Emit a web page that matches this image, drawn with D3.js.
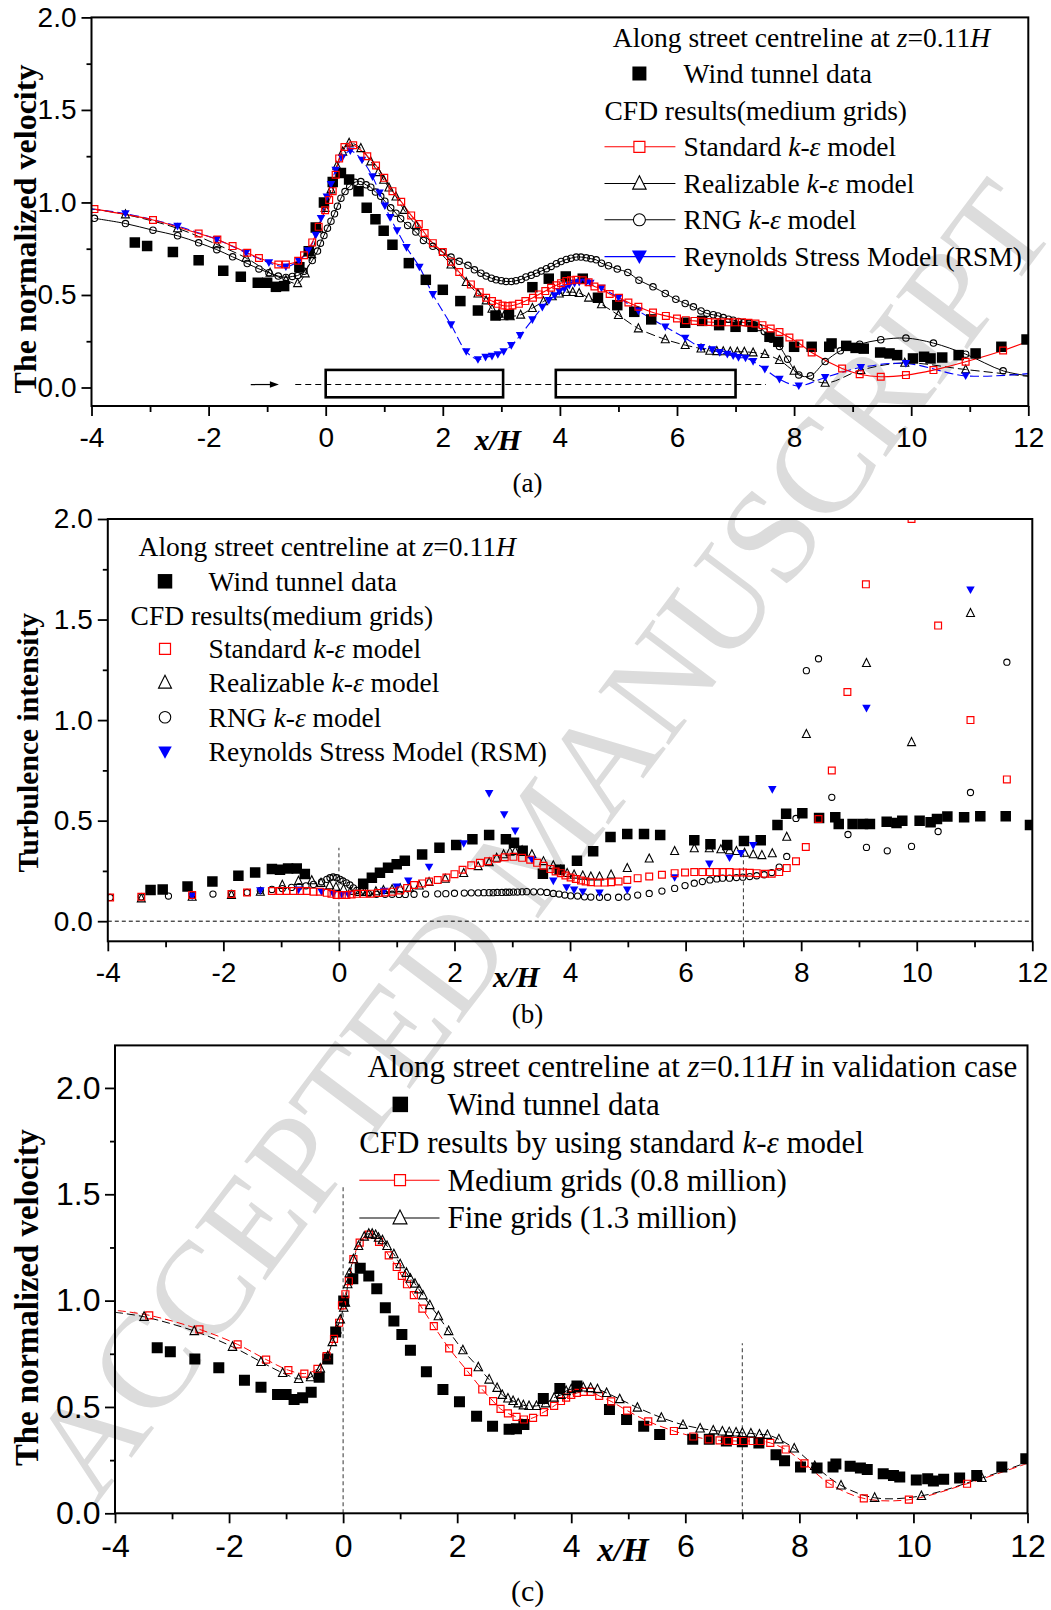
<!DOCTYPE html>
<html>
<head>
<meta charset="utf-8">
<script src="https://cdn.jsdelivr.net/npm/d3@7"></script>
<style>
  html, body { margin: 0; padding: 0; background: #fff; }
  svg { display: block; }
</style>
</head>
<body>
<svg id="fig" width="1051" height="1610"></svg>
<script>
// ---------------------------------------------------------------
// Axis ticks shared by the three panels
// ---------------------------------------------------------------
const xMajorTicks = [-4, -2, 0, 2, 4, 6, 8, 10, 12];
const xMinorTicks = [-3, -1, 1, 3, 5, 7, 9, 11];
const yMajorTicks = [0, 0.5, 1.0, 1.5, 2.0];
const yMinorTicks = [0.25, 0.75, 1.25, 1.75];

// ---------------------------------------------------------------
// (a) normalized velocity, medium grids, four turbulence models
// points given as [x/H, value]; a third entry 0 = line end without symbol
// ---------------------------------------------------------------
const velWindTunnelA = [[-3.26,0.784],[-3.05,0.764],[-2.61,0.732],[-2.17,0.688],[-1.75,0.631],[-1.45,0.598],[-1.16,0.566],[-1.0,0.566],[-0.85,0.544],[-0.71,0.548],[-0.45,0.65],[-0.29,0.736],[-0.17,0.865],[-0.03,1.0],[0.12,1.111],[0.26,1.159],[0.40,1.124],[0.56,1.06],[0.70,0.972],[0.85,0.909],[0.99,0.847],[1.14,0.772],[1.42,0.672],[1.71,0.582],[2.0,0.528],[2.30,0.467],[2.60,0.416],[2.90,0.389],[3.13,0.395],[3.53,0.542],[3.81,0.588],[4.10,0.60],[4.39,0.588],[4.65,0.485],[4.98,0.445],[5.27,0.409],[5.56,0.368],[6.14,0.35],[6.43,0.36],[6.72,0.337],[7.0,0.328],[7.29,0.328],[7.58,0.274],[7.73,0.247],[8.0,0.22],[8.30,0.22],[8.6,0.22],[8.64,0.238],[8.89,0.225],[9.05,0.214],[9.19,0.21],[9.47,0.189],[9.63,0.184],[9.76,0.175],[10.03,0.157],[10.22,0.166],[10.33,0.157],[10.53,0.162],[10.81,0.175],[11.1,0.184],[11.54,0.22],[11.97,0.26]];

const velStandardA = [[-3.95,0.964],[-2.95,0.905],[-2.17,0.832],[-1.85,0.80],[-1.59,0.764],[-1.34,0.728],[-1.14,0.70],[-0.81,0.665],[-0.68,0.665],[-0.47,0.685],[-0.37,0.715],[-0.23,0.784],[-0.12,0.868],[-0.01,0.958],[0.06,1.013],[0.12,1.061],[0.17,1.15],[0.23,1.238],[0.32,1.30],[0.47,1.309],[0.71,1.25],[0.86,1.20],[1.0,1.133],[1.14,1.061],[1.29,1.004],[1.46,0.93],[1.59,0.883],[1.69,0.835],[1.83,0.78],[2.0,0.732],[2.14,0.68],[2.28,0.624],[2.48,0.557],[2.63,0.515],[2.74,0.485],[2.84,0.467],[2.94,0.452],[3.02,0.443],[3.11,0.44],[3.19,0.443],[3.30,0.452],[3.41,0.467],[3.54,0.485],[3.64,0.503],[3.75,0.521],[3.85,0.539],[3.94,0.552],[4.02,0.564],[4.11,0.575],[4.19,0.579],[4.28,0.582],[4.39,0.579],[4.49,0.569],[4.59,0.546],[4.71,0.535],[4.85,0.505],[5.01,0.485],[5.17,0.459],[5.34,0.436],[5.59,0.405],[5.81,0.387],[6.0,0.373],[6.15,0.364],[6.3,0.36],[6.42,0.357],[6.53,0.354],[6.65,0.352],[6.76,0.352],[6.88,0.352],[6.99,0.352],[7.11,0.352],[7.22,0.350],[7.34,0.346],[7.46,0.337],[7.6,0.319],[7.75,0.30],[7.92,0.27],[8.09,0.238],[8.3,0.189],[8.82,0.103],[9.12,0.072],[9.48,0.058],[9.91,0.067],[10.38,0.094],[10.93,0.139],[11.57,0.20],[12,0.25,0]];

const velRealizableA = [[-4,0.965,0],[-3.42,0.935],[-2.53,0.86],[-1.86,0.773],[-1.36,0.70],[-0.95,0.62],[-0.68,0.58],[-0.48,0.563],[-0.35,0.616],[-0.24,0.72],[-0.12,0.86],[-0.01,0.97],[0.09,1.07],[0.19,1.198],[0.29,1.274],[0.40,1.322],[0.60,1.293],[0.77,1.221],[0.90,1.163],[0.99,1.122],[1.08,1.08],[1.20,1.031],[1.34,0.959],[1.54,0.878],[2.14,0.664],[2.40,0.569],[2.60,0.507],[2.74,0.47],[2.84,0.425],[2.96,0.398],[3.04,0.384],[3.15,0.384],[3.33,0.393],[3.53,0.429],[3.72,0.465],[3.87,0.492],[3.99,0.507],[4.11,0.515],[4.22,0.515],[4.33,0.51],[4.49,0.485],[4.71,0.449],[5.0,0.391],[5.34,0.319],[5.8,0.26],[6.14,0.229],[6.41,0.21],[6.56,0.198],[6.68,0.196],[6.79,0.195],[6.91,0.194],[7.03,0.193],[7.15,0.193],[7.3,0.189],[7.5,0.18],[7.75,0.148],[8.0,0.09],[8.53,0.025],[9.14,0.094],[9.89,0.133],[10.93,0.097],[12,0.06,0]];

const velRngA = [[-3.95,0.914],[-3.42,0.886],[-2.95,0.85],[-2.53,0.82],[-2.17,0.782],[-1.86,0.745],[-1.59,0.706],[-1.34,0.67],[-1.14,0.641],[-0.97,0.62],[-0.81,0.602],[-0.68,0.595],[-0.57,0.60],[-0.48,0.605],[-0.37,0.628],[-0.23,0.686],[-0.14,0.737],[-0.09,0.78],[-0.03,0.821],[0.03,0.861],[0.09,0.899],[0.15,0.939],[0.20,0.98],[0.26,1.023],[0.33,1.059],[0.41,1.086],[0.50,1.109],[0.60,1.113],[0.69,1.095],[0.77,1.082],[0.85,1.056],[0.94,1.033],[1.01,1.007],[1.11,0.971],[1.20,0.942],[1.28,0.912],[1.40,0.876],[1.54,0.84],[1.67,0.795],[1.83,0.763],[1.99,0.732],[2.14,0.705],[2.28,0.682],[2.43,0.66],[2.54,0.636],[2.65,0.618],[2.74,0.602],[2.83,0.591],[2.91,0.582],[3.0,0.577],[3.08,0.573],[3.17,0.573],[3.25,0.577],[3.34,0.584],[3.42,0.597],[3.51,0.606],[3.60,0.618],[3.68,0.629],[3.77,0.642],[3.85,0.654],[3.94,0.669],[4.02,0.681],[4.11,0.692],[4.19,0.699],[4.28,0.705],[4.36,0.705],[4.45,0.701],[4.53,0.696],[4.62,0.69],[4.71,0.672],[4.83,0.658],[4.98,0.64],[5.16,0.622],[5.35,0.58],[5.59,0.544],[5.80,0.508],[5.98,0.477],[6.14,0.454],[6.28,0.436],[6.41,0.414],[6.51,0.40],[6.62,0.393],[6.70,0.387],[6.79,0.378],[6.88,0.369],[6.96,0.364],[7.05,0.357],[7.14,0.351],[7.23,0.346],[7.31,0.339],[7.40,0.324],[7.49,0.303],[7.61,0.261],[7.75,0.222],[7.89,0.153],[8.08,0.068],[8.28,0.063],[8.53,0.14],[8.79,0.198],[9.12,0.234],[9.48,0.258],[9.91,0.267],[10.38,0.24],[10.93,0.18],[11.57,0.09],[12,0.063,0]];

const velRsmA = [[-4,0.965,0],[-3.42,0.94],[-2.53,0.872],[-1.86,0.80],[-1.36,0.728],[-0.97,0.674],[-0.68,0.652],[-0.46,0.685],[-0.30,0.739],[-0.17,0.823],[-0.08,0.914],[0.02,1.03],[0.09,1.097],[0.17,1.175],[0.28,1.241],[0.42,1.279],[0.62,1.229],[0.80,1.139],[0.92,1.052],[1.01,0.982],[1.10,0.919],[1.22,0.847],[1.38,0.757],[1.60,0.651],[1.83,0.503],[2.14,0.339],[2.40,0.194],[2.60,0.151],[2.73,0.164],[2.84,0.169],[2.94,0.178],[3.04,0.194],[3.17,0.227],[3.32,0.281],[3.53,0.366],[3.70,0.434],[3.81,0.47],[3.91,0.497],[3.99,0.519],[4.08,0.534],[4.16,0.552],[4.25,0.564],[4.33,0.569],[4.45,0.569],[4.52,0.564],[4.71,0.537],[5.0,0.486],[5.34,0.414],[5.80,0.328],[6.14,0.267],[6.41,0.216],[6.60,0.204],[6.73,0.189],[6.86,0.18],[6.96,0.171],[7.05,0.162],[7.17,0.159],[7.30,0.141],[7.5,0.099],[7.75,0.045],[8.08,0.009],[8.53,0.054],[9.14,0.108],[9.91,0.13],[10.93,0.063],[12,0.075,0]];

// street canyon blocks, approach-flow marker and centreline guide
const blockSpansA = [[0, 3.03], [3.93, 7.0]];
const blockHeightA = [-0.053, 0.095];
const guideLineA = [[-0.52, 0.016], [7.52, 0.016]];
const windArrowA = [[-1.28, 0.016], [-0.8, 0.016]];

// ---------------------------------------------------------------
// (b) turbulence intensity, scatter only
// ---------------------------------------------------------------
const tiWindTunnelB = [[-3.26,0.155],[-3.05,0.158],[-2.62,0.172],[-2.19,0.197],[-1.74,0.226],[-1.45,0.242],[-1.16,0.259],[-1.02,0.256],[-0.88,0.262],[-0.73,0.262],[-0.59,0.235],[0.42,0.186],[0.57,0.216],[0.71,0.241],[0.85,0.266],[1.0,0.283],[1.14,0.30],[1.44,0.332],[1.74,0.365],[2.03,0.379],[2.31,0.407],[2.60,0.429],[2.89,0.407],[3.03,0.39],[3.18,0.35],[3.53,0.236],[3.82,0.256],[4.12,0.301],[4.40,0.348],[4.70,0.419],[4.99,0.433],[5.28,0.433],[5.56,0.428],[6.15,0.402],[6.43,0.382],[6.72,0.379],[7.01,0.399],[7.30,0.402],[7.59,0.478],[7.74,0.534],[8.02,0.537],[8.31,0.513],[8.59,0.517],[8.65,0.483],[8.89,0.483],[9.07,0.483],[9.19,0.483],[9.48,0.495],[9.65,0.488],[9.75,0.50],[10.05,0.50],[10.24,0.492],[10.35,0.508],[10.53,0.52],[10.82,0.517],[11.10,0.522],[11.54,0.522],[11.96,0.478]];

const tiStandardB = [[-3.96,0.118],[-3.42,0.121],[-2.54,0.13],[-1.86,0.135],[-1.59,0.143],[-1.16,0.15],[-1.02,0.15],[-0.91,0.15],[-0.79,0.15],[-0.67,0.15],[-0.56,0.15],[-0.44,0.147],[-0.33,0.147],[-0.21,0.141],[-0.13,0.136],[-0.04,0.13],[0.05,0.13],[0.13,0.13],[0.22,0.133],[0.31,0.136],[0.42,0.136],[0.55,0.137],[0.68,0.14],[0.80,0.143],[0.93,0.147],[1.06,0.153],[1.18,0.165],[1.30,0.18],[1.44,0.188],[1.56,0.197],[1.71,0.205],[1.86,0.217],[2.0,0.234],[2.14,0.256],[2.29,0.278],[2.44,0.29],[2.58,0.298],[2.73,0.31],[2.87,0.318],[3.02,0.32],[3.17,0.315],[3.31,0.306],[3.43,0.29],[3.54,0.276],[3.66,0.259],[3.75,0.247],[3.84,0.239],[3.92,0.227],[4.01,0.217],[4.10,0.21],[4.19,0.202],[4.27,0.197],[4.36,0.194],[4.48,0.192],[4.60,0.192],[4.71,0.194],[4.84,0.197],[4.99,0.205],[5.17,0.214],[5.37,0.222],[5.59,0.231],[5.81,0.239],[5.99,0.242],[6.15,0.244],[6.29,0.244],[6.42,0.244],[6.54,0.244],[6.64,0.244],[6.76,0.244],[6.88,0.242],[6.99,0.242],[7.11,0.241],[7.23,0.239],[7.37,0.236],[7.49,0.236],[7.62,0.244],[7.75,0.264],[7.91,0.298],[8.08,0.369],[8.30,0.508],[8.53,0.749],[8.80,1.14],[9.12,1.675],[9.91,2.0],[10.37,1.47],[10.93,1.0],[11.56,0.705]];

const tiRealizableB = [[-3.42,0.113],[-2.54,0.121],[-1.86,0.13],[-1.36,0.146],[-0.98,0.18],[-0.70,0.20],[-0.47,0.203],[-0.31,0.19],[-0.16,0.178],[-0.05,0.17],[0.08,0.16],[0.20,0.15],[0.35,0.145],[0.48,0.145],[0.64,0.148],[0.77,0.155],[0.92,0.158],[1.06,0.163],[1.22,0.167],[1.39,0.177],[1.56,0.194],[1.84,0.21],[2.16,0.239],[2.41,0.273],[2.60,0.293],[2.73,0.315],[2.85,0.332],[2.96,0.345],[3.05,0.348],[3.17,0.352],[3.34,0.332],[3.54,0.298],[3.71,0.278],[3.84,0.256],[3.95,0.239],[4.07,0.231],[4.22,0.226],[4.36,0.222],[4.51,0.222],[4.71,0.231],[4.99,0.264],[5.37,0.311],[5.81,0.348],[6.15,0.362],[6.41,0.362],[6.61,0.357],[6.76,0.352],[6.88,0.348],[7.02,0.34],[7.17,0.332],[7.32,0.328],[7.50,0.337],[7.75,0.419],[8.09,0.93],[9.13,1.283],[9.91,0.89],[10.93,1.532]];

const tiRngB = [[-3.96,0.118],[-3.42,0.121],[-2.95,0.125],[-2.54,0.13],[-2.18,0.135],[-1.86,0.138],[-1.59,0.143],[-1.36,0.152],[-1.16,0.158],[-0.98,0.162],[-0.82,0.168],[-0.69,0.172],[-0.57,0.176],[-0.44,0.183],[-0.30,0.196],[-0.21,0.208],[-0.155,0.216],[-0.10,0.22],[-0.04,0.216],[0.02,0.208],[0.07,0.20],[0.13,0.191],[0.19,0.18],[0.25,0.166],[0.31,0.153],[0.39,0.146],[0.51,0.137],[0.65,0.134],[0.80,0.134],[0.92,0.134],[1.04,0.133],[1.15,0.133],[1.30,0.134],[1.50,0.135],[1.71,0.136],[1.85,0.137],[2.0,0.139],[2.17,0.14],[2.29,0.141],[2.41,0.141],[2.51,0.142],[2.60,0.142],[2.67,0.142],[2.74,0.143],[2.82,0.143],[2.89,0.144],[2.95,0.144],[3.02,0.145],[3.09,0.145],[3.17,0.146],[3.25,0.147],[3.37,0.146],[3.49,0.146],[3.60,0.143],[3.71,0.138],[3.81,0.135],[3.91,0.13],[4.01,0.126],[4.13,0.125],[4.25,0.121],[4.36,0.12],[4.51,0.119],[4.65,0.119],[4.84,0.119],[4.99,0.121],[5.17,0.13],[5.37,0.138],[5.59,0.15],[5.81,0.163],[5.99,0.177],[6.15,0.189],[6.29,0.197],[6.42,0.205],[6.54,0.21],[6.64,0.214],[6.76,0.214],[6.88,0.217],[6.99,0.219],[7.11,0.222],[7.23,0.226],[7.36,0.231],[7.49,0.242],[7.62,0.269],[7.75,0.322],[7.91,0.511],[8.09,1.246],[8.30,1.305],[8.53,0.616],[8.81,0.431],[9.13,0.367],[9.49,0.35],[9.91,0.372],[10.37,0.446],[10.93,0.64],[11.56,1.288]];

const tiRsmB = [[-2.54,0.125],[-1.36,0.152],[-0.70,0.155],[-0.30,0.146],[-0.10,0.136],[0.05,0.133],[0.16,0.133],[0.78,0.15],[1.0,0.171],[1.2,0.20],[1.56,0.269],[2.16,0.386],[2.60,0.635],[2.86,0.53],[3.05,0.449],[3.34,0.306],[3.71,0.20],[3.94,0.167],[4.07,0.155],[4.22,0.146],[4.51,0.141],[4.99,0.155],[5.81,0.217],[6.41,0.285],[6.76,0.315],[6.96,0.337],[7.17,0.377],[7.50,0.655],[9.13,1.059],[10.93,1.648]];

// building faces marked in (b) and (c): [x/H, top of guide]
const faceGuidesB = [[0, 0.365], [7, 0.335]];
const faceGuidesC = [[0, 1.54], [7, 0.80]];

// ---------------------------------------------------------------
// (c) normalized velocity, grid sensitivity (standard k-epsilon)
// ---------------------------------------------------------------
const velWindTunnelC = [[-3.26,0.778],[-3.03,0.759],[-2.60,0.726],[-2.18,0.684],[-1.73,0.625],[-1.44,0.593],[-1.15,0.559],[-1.0,0.559],[-0.86,0.535],[-0.71,0.543],[-0.56,0.569],[-0.42,0.64],[-0.27,0.726],[-0.13,0.853],[0.01,0.998],[0.17,1.103],[0.30,1.152],[0.45,1.116],[0.59,1.056],[0.74,0.967],[0.89,0.904],[1.03,0.841],[1.18,0.767],[1.46,0.665],[1.75,0.582],[2.04,0.524],[2.34,0.456],[2.62,0.409],[2.91,0.395],[3.04,0.397],[3.17,0.418],[3.51,0.54],[3.80,0.587],[4.10,0.598],[4.67,0.488],[4.97,0.441],[5.27,0.409],[5.55,0.371],[6.13,0.348],[6.42,0.348],[6.72,0.34],[7.0,0.336],[7.29,0.331],[7.59,0.275],[7.74,0.247],[8.02,0.218],[8.31,0.213],[8.59,0.218],[8.64,0.232],[8.89,0.221],[9.07,0.213],[9.19,0.206],[9.47,0.186],[9.65,0.178],[9.76,0.171],[10.05,0.157],[10.25,0.162],[10.35,0.152],[10.53,0.16],[10.81,0.166],[11.11,0.178],[11.55,0.218],[11.97,0.256]];

const velMediumC = [[-3.95,0.953,0],[-3.40,0.931],[-2.52,0.865],[-1.85,0.794],[-1.35,0.723],[-0.96,0.673],[-0.68,0.657],[-0.45,0.679],[-0.29,0.739],[-0.16,0.82],[-0.07,0.896],[-0.02,0.978],[0.04,1.03],[0.10,1.092],[0.18,1.195],[0.29,1.273],[0.45,1.31],[0.63,1.276],[0.80,1.213],[0.94,1.158],[1.03,1.116],[1.12,1.077],[1.24,1.026],[1.39,0.962],[1.59,0.88],[1.86,0.775],[2.19,0.665],[2.44,0.582],[2.63,0.527],[2.76,0.491],[2.89,0.47],[3.04,0.453],[3.17,0.441],[3.33,0.449],[3.52,0.476],[3.70,0.505],[3.82,0.528],[3.91,0.544],[4.0,0.557],[4.10,0.566],[4.22,0.571],[4.34,0.571],[4.49,0.552],[4.70,0.526],[4.98,0.483],[5.35,0.432],[5.80,0.387],[6.14,0.361],[6.41,0.348],[6.60,0.343],[6.75,0.341],[6.89,0.34],[7.03,0.34],[7.18,0.34],[7.32,0.34],[7.49,0.331],[7.76,0.30],[8.09,0.235],[8.53,0.139],[9.13,0.07],[9.92,0.064],[10.94,0.139],[12,0.235,0]];

const velFineC = [[-4,0.945,0],[-3.49,0.924],[-2.61,0.857],[-1.94,0.783],[-1.44,0.712],[-1.06,0.66],[-0.78,0.632],[-0.57,0.64],[-0.40,0.681],[-0.27,0.739],[-0.19,0.805],[-0.11,0.865],[-0.05,0.912],[0.01,0.967],[0.04,0.99],[0.08,1.077],[0.11,1.129],[0.18,1.195],[0.27,1.257],[0.37,1.301],[0.45,1.315],[0.51,1.315],[0.57,1.309],[0.62,1.296],[0.69,1.284],[0.77,1.257],[0.89,1.218],[1.0,1.171],[1.11,1.131],[1.18,1.103],[1.26,1.08],[1.33,1.053],[1.40,1.025],[1.52,0.979],[1.67,0.927],[1.85,0.857],[2.10,0.767],[2.37,0.687],[2.56,0.629],[2.70,0.59],[2.79,0.557],[2.89,0.54],[2.98,0.528],[3.07,0.517],[3.16,0.508],[3.26,0.505],[3.39,0.505],[3.55,0.517],[3.70,0.544],[3.82,0.557],[3.91,0.575],[4.0,0.584],[4.09,0.589],[4.21,0.592],[4.34,0.589],[4.46,0.584],[4.62,0.566],[4.85,0.537],[5.16,0.497],[5.58,0.45],[5.96,0.416],[6.26,0.399],[6.49,0.39],[6.65,0.385],[6.77,0.382],[6.89,0.38],[7.0,0.378],[7.15,0.376],[7.30,0.371],[7.44,0.369],[7.64,0.348],[7.91,0.305],[8.27,0.223],[8.73,0.131],[9.32,0.073],[10.14,0.082],[11.20,0.166],[12,0.24,0]];

// ---------------------------------------------------------------
// drawing helpers
// ---------------------------------------------------------------
const SERIF = "'Liberation Serif','Times New Roman',Times,serif";
const SANS = "'Liberation Sans',Arial,Helvetica,sans-serif";
const svg = d3.select("#fig");

function symbolPath(type, s) {
  const h = s / 2;
  if (type === "square") return `M${-h},${-h}h${s}v${s}h${-s}Z`;
  if (type === "tri") return `M0,${-s * 0.58}L${h},${s * 0.42}L${-h},${s * 0.42}Z`;
  if (type === "dtri") return `M0,${s * 0.5}L${h},${-s * 0.4}L${-h},${-s * 0.4}Z`;
  if (type === "circle") return `M${h},0A${h},${h} 0 1,1 ${-h},0A${h},${h} 0 1,1 ${h},0Z`;
  return "";
}

function drawSymbols(g, pts, sc, st) {
  g.append("g").selectAll("path")
    .data(pts.filter(p => p[2] !== 0))
    .join("path")
    .attr("transform", p => `translate(${sc.x(p[0])},${sc.y(p[1])})`)
    .attr("d", symbolPath(st.type, st.size))
    .attr("fill", st.fill)
    .attr("stroke", st.stroke)
    .attr("stroke-width", st.sw);
}

function drawLine(g, pts, sc, st) {
  const line = d3.line().x(p => sc.x(p[0])).y(p => sc.y(p[1])).curve(d3.curveCatmullRom.alpha(0.5));
  g.append("path").datum(pts).attr("d", line)
    .attr("fill", "none").attr("stroke", st.color).attr("stroke-width", st.width)
    .attr("stroke-dasharray", st.dash || null);
}

function richText(g, x, y, parts, size, anchor) {
  const t = g.append("text").attr("x", x).attr("y", y)
    .attr("font-family", SERIF).attr("font-size", size).attr("fill", "#000")
    .attr("text-anchor", anchor || "start");
  parts.forEach(([s, it]) => {
    t.append("tspan").text(s).attr("font-style", it ? "italic" : "normal");
  });
  return t;
}

function makePanel(box, yDomain, opt) {
  const x = d3.scaleLinear().domain([-4, 12]).range([box.l, box.r]);
  const y = d3.scaleLinear().domain(yDomain).range([box.b, box.t]);
  const g = svg.append("g");
  const clipId = "clip" + opt.id;
  g.append("clipPath").attr("id", clipId).append("rect")
    .attr("x", box.l).attr("y", box.t).attr("width", box.r - box.l).attr("height", box.b - box.t);
  const plot = g.append("g").attr("clip-path", `url(#${clipId})`);
  const deco = g.append("g");
  return { x, y, g, plot, deco, box, opt };
}

function finishPanel(P) {
  const { x, y, g, box, opt } = P;
  const styleAxis = sel => {
    sel.select(".domain").remove();
    sel.selectAll(".tick line").attr("stroke", "#000").attr("stroke-width", 1.8);
    sel.selectAll(".tick text").attr("font-family", SANS).attr("font-size", opt.tickFont).attr("fill", "#000");
  };
  g.append("g").attr("transform", `translate(${box.l},0)`)
    .call(d3.axisLeft(y).tickValues(yMajorTicks).tickSize(10).tickPadding(opt.yPad).tickFormat(d => d.toFixed(1)))
    .call(styleAxis);
  g.append("g").attr("transform", `translate(${box.l},0)`)
    .call(d3.axisLeft(y).tickValues(yMinorTicks).tickSize(5).tickFormat(""))
    .call(styleAxis);
  g.append("g").attr("transform", `translate(0,${box.b})`)
    .call(d3.axisBottom(x).tickValues(xMajorTicks).tickSize(10).tickPadding(opt.xPad).tickFormat(d => String(d)))
    .call(styleAxis);
  g.append("g").attr("transform", `translate(0,${box.b})`)
    .call(d3.axisBottom(x).tickValues(xMinorTicks).tickSize(6).tickFormat(""))
    .call(styleAxis);
  g.append("rect").attr("x", box.l).attr("y", box.t)
    .attr("width", box.r - box.l).attr("height", box.b - box.t)
    .attr("fill", "none").attr("stroke", "#000").attr("stroke-width", 2);

  // y-axis title
  g.append("text")
    .attr("transform", `translate(${opt.yTitleX},${opt.yTitleY}) rotate(-90)`)
    .attr("text-anchor", "middle").attr("font-family", SERIF).attr("font-weight", "bold")
    .attr("font-size", opt.yTitleFont).text(opt.yTitle);
  // x-axis title
  g.append("text").attr("x", opt.xTitle[0]).attr("y", opt.xTitle[1])
    .attr("text-anchor", "middle").attr("font-family", SERIF).attr("font-weight", "bold")
    .attr("font-style", "italic").attr("font-size", opt.xTitleFont).text("x/H");
  // panel tag
  g.append("text").attr("x", opt.tag[0]).attr("y", opt.tag[1])
    .attr("text-anchor", "middle").attr("font-family", SERIF)
    .attr("font-size", opt.tagFont).text(opt.tagText);
}

// ---------------------------------------------------------------
// watermark across the sheet
// ---------------------------------------------------------------
svg.append("text")
  .attr("transform", "translate(96,1505) rotate(-53)")
  .attr("font-family", SERIF).attr("font-size", 135)
  .attr("textLength", 1600).attr("lengthAdjust", "spacing")
  .attr("fill", "#dcdcdc").text("ACCEPTED MANUSCRIPT");

// ---------------------------------------------------------------
// symbol and line styles
// ---------------------------------------------------------------
const symWT = s => ({ type: "square", size: s, fill: "#000", stroke: "none", sw: 0 });
const symStd = s => ({ type: "square", size: s, fill: "none", stroke: "#ff0000", sw: 1.2 });
const symReal = s => ({ type: "tri", size: s, fill: "none", stroke: "#000", sw: 1.1 });
const symRng = s => ({ type: "circle", size: s, fill: "none", stroke: "#000", sw: 1.1 });
const symRsm = s => ({ type: "dtri", size: s, fill: "#0000ff", stroke: "none", sw: 0 });

// ---------------------------------------------------------------
// panel (a)
// ---------------------------------------------------------------
{
  const P = makePanel({ l: 91.5, r: 1028.3, t: 17.4, b: 406 }, [-0.1, 2.0], {
    id: "a", tickFont: 28, yPad: 5, xPad: 11,
    yTitle: "The normalized velocity", yTitleX: 35.5, yTitleY: 229, yTitleFont: 32,
    xTitle: [497.8, 449.5], xTitleFont: 30,
    tag: [527.6, 491.5], tagFont: 27, tagText: "(a)"
  });
  const sc = { x: P.x, y: P.y };

  // canyon blocks and approach flow
  P.plot.append("path").datum(guideLineA)
    .attr("d", d3.line().x(p => P.x(p[0])).y(p => P.y(p[1])))
    .attr("stroke", "#000").attr("stroke-width", 1.1).attr("stroke-dasharray", "6,4").attr("fill", "none");
  P.plot.selectAll("rect.block").data(blockSpansA).join("rect")
    .attr("x", d => P.x(d[0])).attr("width", d => P.x(d[1]) - P.x(d[0]))
    .attr("y", P.y(blockHeightA[1])).attr("height", P.y(blockHeightA[0]) - P.y(blockHeightA[1]))
    .attr("fill", "none").attr("stroke", "#000").attr("stroke-width", 2.6);
  {
    const [a, b] = windArrowA;
    const x0 = P.x(a[0]), x1 = P.x(b[0]), yy = P.y(a[1]);
    P.plot.append("line").attr("x1", x0).attr("x2", x1 - 7).attr("y1", yy).attr("y2", yy)
      .attr("stroke", "#000").attr("stroke-width", 1.2);
    P.plot.append("path").attr("d", `M${x1},${yy}L${x1 - 9},${yy - 3.2}L${x1 - 9},${yy + 3.2}Z`).attr("fill", "#000");
  }

  drawLine(P.plot, velRngA, sc, { color: "#000", width: 1 });
  drawLine(P.plot, velRealizableA, sc, { color: "#000", width: 1, dash: "9,4" });
  drawLine(P.plot, velRsmA, sc, { color: "#0000ff", width: 1.1, dash: "9,4" });
  drawLine(P.plot, velStandardA, sc, { color: "#ff0000", width: 1.1 });

  drawSymbols(P.plot, velWindTunnelA, sc, symWT(10.5));
  drawSymbols(P.plot, velRngA, sc, symRng(6.4));
  drawSymbols(P.plot, velRealizableA, sc, symReal(8));
  drawSymbols(P.plot, velRsmA, sc, symRsm(8.5));
  drawSymbols(P.plot, velStandardA, sc, symStd(6.8));

  // legend
  const L = P.deco, fs = 27.5;
  richText(L, 612.8, 46.5, [["Along street centreline at ", 0], ["z", 1], ["=0.11", 0], ["H", 1]], fs);
  L.append("path").attr("transform", "translate(639.4,73.5)").attr("d", symbolPath("square", 14)).attr("fill", "#000");
  richText(L, 683.6, 83, [["Wind tunnel data", 0]], fs);
  richText(L, 604.5, 119.5, [["CFD results(medium grids)", 0]], fs);
  const rows = [
    { cy: 146.8, color: "#ff0000", sym: symStd(11), parts: [["Standard ", 0], ["k-\u03b5", 1], [" model", 0]] },
    { cy: 183.5, color: "#000", sym: symReal(13.5), parts: [["Realizable ", 0], ["k-\u03b5", 1], [" model", 0]] },
    { cy: 219.8, color: "#000", sym: symRng(12), parts: [["RNG ", 0], ["k-\u03b5", 1], [" model", 0]] },
    { cy: 256.6, color: "#0000ff", sym: symRsm(15), parts: [["Reynolds Stress Model (RSM)", 0]] }
  ];
  rows.forEach(r => {
    L.append("line").attr("x1", 604.5).attr("x2", 675.4).attr("y1", r.cy).attr("y2", r.cy)
      .attr("stroke", r.color).attr("stroke-width", 1.1);
    L.append("path").attr("transform", `translate(639.4,${r.cy})`).attr("d", symbolPath(r.sym.type, r.sym.size))
      .attr("fill", r.sym.fill === "none" ? "#fff" : r.sym.fill).attr("stroke", r.sym.stroke).attr("stroke-width", r.sym.sw);
    richText(L, 683.6, r.cy + 9.3, r.parts, fs);
  });
  finishPanel(P);
}

// ---------------------------------------------------------------
// panel (b)
// ---------------------------------------------------------------
{
  const P = makePanel({ l: 107.8, r: 1032.3, t: 519, b: 941.3 }, [-0.1, 2.0], {
    id: "b", tickFont: 28, yPad: 5, xPad: 11,
    yTitle: "Turbulence intensity", yTitleX: 38, yTitleY: 742.7, yTitleFont: 29.6,
    xTitle: [516.3, 987], xTitleFont: 30,
    tag: [527.6, 1023], tagFont: 27, tagText: "(b)"
  });
  const sc = { x: P.x, y: P.y };

  P.plot.append("line").attr("x1", P.x(-4)).attr("x2", P.x(12)).attr("y1", P.y(0)).attr("y2", P.y(0))
    .attr("stroke", "#000").attr("stroke-width", 1).attr("stroke-dasharray", "4,3");
  P.plot.selectAll("line.face").data(faceGuidesB).join("line")
    .attr("x1", d => P.x(d[0])).attr("x2", d => P.x(d[0]))
    .attr("y1", P.y(-0.1)).attr("y2", d => P.y(d[1]))
    .attr("stroke", "#333").attr("stroke-width", 1).attr("stroke-dasharray", "4,3");

  drawSymbols(P.plot, tiWindTunnelB, sc, symWT(10.5));
  drawSymbols(P.plot, tiRngB, sc, symRng(6.2));
  drawSymbols(P.plot, tiRealizableB, sc, symReal(8));
  drawSymbols(P.plot, tiRsmB, sc, symRsm(8.5));
  drawSymbols(P.plot, tiStandardB, sc, symStd(6.8));

  const L = P.deco, fs = 27.5;
  richText(L, 138.6, 556, [["Along street centreline at ", 0], ["z", 1], ["=0.11", 0], ["H", 1]], fs);
  L.append("path").attr("transform", "translate(165,581.3)").attr("d", symbolPath("square", 14.5)).attr("fill", "#000");
  richText(L, 208.6, 590.6, [["Wind tunnel data", 0]], fs);
  richText(L, 130.6, 625, [["CFD results(medium grids)", 0]], fs);
  const rows = [
    { cy: 648.9, sym: symStd(11), parts: [["Standard ", 0], ["k-\u03b5", 1], [" model", 0]] },
    { cy: 682.7, sym: symReal(13), parts: [["Realizable ", 0], ["k-\u03b5", 1], [" model", 0]] },
    { cy: 717.2, sym: symRng(11.5), parts: [["RNG ", 0], ["k-\u03b5", 1], [" model", 0]] },
    { cy: 752, sym: symRsm(13.5), parts: [["Reynolds Stress Model (RSM)", 0]] }
  ];
  rows.forEach(r => {
    L.append("path").attr("transform", `translate(165,${r.cy})`).attr("d", symbolPath(r.sym.type, r.sym.size))
      .attr("fill", r.sym.fill).attr("stroke", r.sym.stroke).attr("stroke-width", r.sym.sw);
    richText(L, 208.6, r.cy + 9.3, r.parts, fs);
  });
  finishPanel(P);
}

// ---------------------------------------------------------------
// panel (c)
// ---------------------------------------------------------------
{
  const P = makePanel({ l: 115, r: 1027.5, t: 1045.4, b: 1513.3 }, [0, 2.2], {
    id: "c", tickFont: 32, yPad: 4.5, xPad: 11,
    yTitle: "The normalized velocity", yTitleX: 37.5, yTitleY: 1297.5, yTitleFont: 32.8,
    xTitle: [623, 1561], xTitleFont: 33,
    tag: [527.6, 1601], tagFont: 30, tagText: "(c)"
  });
  const sc = { x: P.x, y: P.y };

  P.plot.selectAll("line.face").data(faceGuidesC).join("line")
    .attr("x1", d => P.x(d[0])).attr("x2", d => P.x(d[0]))
    .attr("y1", P.y(0)).attr("y2", d => P.y(d[1]))
    .attr("stroke", "#555").attr("stroke-width", 1.2).attr("stroke-dasharray", "4,3");

  drawLine(P.plot, velFineC, sc, { color: "#000", width: 1, dash: "8,4" });
  drawLine(P.plot, velMediumC, sc, { color: "#ff0000", width: 1, dash: "8,4" });

  drawSymbols(P.plot, velWindTunnelC, sc, symWT(11));
  drawSymbols(P.plot, velMediumC, sc, symStd(7));
  drawSymbols(P.plot, velFineC, sc, symReal(8.5));

  const L = P.deco, fs = 31;
  richText(L, 367.4, 1076.8, [["Along street centreline at ", 0], ["z", 1], ["=0.11", 0], ["H", 1], [" in validation case", 0]], fs);
  L.append("path").attr("transform", "translate(400.3,1104.4)").attr("d", symbolPath("square", 15.5)).attr("fill", "#000");
  richText(L, 447.5, 1114.8, [["Wind tunnel data", 0]], fs);
  richText(L, 359.2, 1152.7, [["CFD results by using standard ", 0], ["k-\u03b5", 1], [" model", 0]], fs);
  const rows = [
    { cy: 1180.2, color: "#ff0000", sym: symStd(11), parts: [["Medium grids (0.8 million)", 0]] },
    { cy: 1218, color: "#000", sym: symReal(14), parts: [["Fine grids (1.3 million)", 0]] }
  ];
  rows.forEach(r => {
    L.append("line").attr("x1", 359.3).attr("x2", 439.5).attr("y1", r.cy).attr("y2", r.cy)
      .attr("stroke", r.color).attr("stroke-width", 1.1);
    L.append("path").attr("transform", `translate(400,${r.cy})`).attr("d", symbolPath(r.sym.type, r.sym.size))
      .attr("fill", "#fff").attr("stroke", r.sym.stroke).attr("stroke-width", r.sym.sw);
    richText(L, 447.5, r.cy + 10.4, r.parts, fs);
  });
  finishPanel(P);
}
</script>
</body>
</html>
